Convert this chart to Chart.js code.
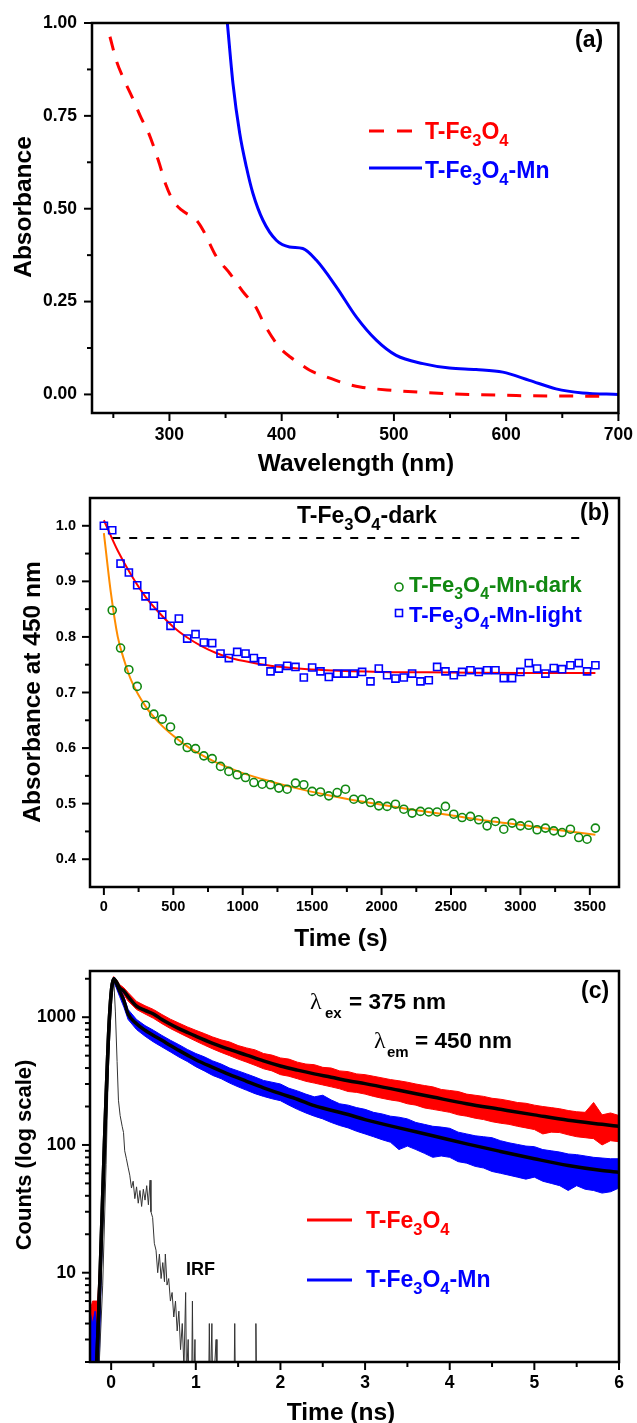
<!DOCTYPE html>
<html>
<head>
<meta charset="utf-8">
<script src="https://cdn.jsdelivr.net/npm/chart.js@4.4.1/dist/chart.umd.min.js"></script>
<style>
  html, body { margin: 0; padding: 0; background: #fff; }
  .panel { position: absolute; left: 0; width: 637px; }
  #wrapA { top: 0; height: 476px; }
  #wrapB { top: 476px; height: 476px; }
  #wrapC { top: 952px; height: 471px; }
</style>
</head>
<body>
<div class="panel" id="wrapA"><canvas id="chartA" width="637" height="476"></canvas></div>
<div class="panel" id="wrapB"><canvas id="chartB" width="637" height="476"></canvas></div>
<div class="panel" id="wrapC"><canvas id="chartC" width="637" height="471"></canvas></div>
<script>
// ---- (a) UV-vis absorbance ----
const bareWl = [247, 253, 259, 268, 275, 281, 290, 297, 303, 311, 324, 330, 342, 354, 367, 376, 386, 398, 408, 416, 425, 440, 455, 470, 499, 550, 609, 683];
const bareAbs = [0.963, 0.896, 0.851, 0.792, 0.743, 0.707, 0.631, 0.563, 0.523, 0.496, 0.469, 0.442, 0.37, 0.325, 0.271, 0.24, 0.181, 0.127, 0.10, 0.083, 0.065, 0.047, 0.031, 0.02, 0.011, 0.002, -0.003, -0.005];
const mnWl = [351.6, 356.6, 362.6, 368.5, 374.4, 383.3, 395.2, 407, 418.8, 431, 448.8, 466.6, 484.3, 502, 525.8, 549.5, 573.2, 597, 620.7, 644.4, 668, 700];
const mnAbs = [1.0, 0.837, 0.703, 0.613, 0.541, 0.469, 0.415, 0.397, 0.393, 0.361, 0.289, 0.208, 0.146, 0.105, 0.083, 0.071, 0.067, 0.06, 0.038, 0.015, 0.004, 0.0];
const wlMajor = [300, 400, 500, 600, 700];
const wlMinor = [250, 350, 450, 550, 650];
const absMajor = [0, 0.25, 0.5, 0.75, 1.0];
const absMinor = [0.125, 0.375, 0.625, 0.875];

// ---- (b) absorbance at 450 nm vs time ----
const lightTime = [0, 60, 120, 180, 240, 300, 360, 420, 480, 540, 600, 660, 720, 780, 840, 900, 960, 1020, 1080, 1140, 1200, 1260, 1320, 1380, 1440, 1500, 1560, 1620, 1680, 1740, 1800, 1860, 1920, 1980, 2040, 2100, 2160, 2220, 2280, 2340, 2400, 2460, 2520, 2580, 2640, 2700, 2760, 2820, 2880, 2940, 3000, 3060, 3120, 3180, 3240, 3300, 3360, 3420, 3480, 3540];
const lightAbs = [1.0, 0.992, 0.932, 0.916, 0.893, 0.873, 0.856, 0.84, 0.82, 0.833, 0.797, 0.805, 0.79, 0.789, 0.77, 0.762, 0.773, 0.77, 0.762, 0.756, 0.738, 0.743, 0.748, 0.746, 0.727, 0.745, 0.738, 0.728, 0.734, 0.734, 0.734, 0.737, 0.72, 0.743, 0.731, 0.725, 0.727, 0.734, 0.72, 0.722, 0.746, 0.738, 0.731, 0.737, 0.74, 0.737, 0.74, 0.74, 0.726, 0.726, 0.737, 0.753, 0.743, 0.734, 0.744, 0.742, 0.749, 0.753, 0.738, 0.749];
const darkTime = [60, 120, 180, 240, 300, 360, 420, 480, 540, 600, 660, 720, 780, 840, 900, 960, 1020, 1080, 1140, 1200, 1260, 1320, 1380, 1440, 1500, 1560, 1620, 1680, 1740, 1800, 1860, 1920, 1980, 2040, 2100, 2160, 2220, 2280, 2340, 2400, 2460, 2520, 2580, 2640, 2700, 2760, 2820, 2880, 2940, 3000, 3060, 3120, 3180, 3240, 3300, 3360, 3420, 3480, 3540];
const darkAbs = [0.848, 0.78, 0.741, 0.711, 0.677, 0.661, 0.652, 0.638, 0.613, 0.601, 0.599, 0.586, 0.581, 0.567, 0.558, 0.552, 0.547, 0.538, 0.535, 0.534, 0.528, 0.526, 0.537, 0.534, 0.522, 0.521, 0.514, 0.52, 0.526, 0.508, 0.508, 0.502, 0.496, 0.495, 0.499, 0.49, 0.483, 0.486, 0.485, 0.485, 0.495, 0.481, 0.475, 0.477, 0.471, 0.46, 0.468, 0.454, 0.465, 0.46, 0.461, 0.453, 0.456, 0.451, 0.448, 0.454, 0.439, 0.436, 0.456];
const lightFitT = [0, 100, 200, 300, 400, 500, 600, 700, 800, 900, 1000, 1200, 1400, 1600, 2000, 2500, 3000, 3540];
const lightFitV = [1.01, 0.955, 0.91, 0.872, 0.843, 0.818, 0.799, 0.784, 0.772, 0.763, 0.757, 0.748, 0.743, 0.740, 0.737, 0.736, 0.735, 0.735];
const darkFitT = [0, 50, 100, 150, 200, 300, 400, 500, 600, 700, 800, 1000, 1200, 1400, 1600, 1800, 2000, 2200, 2500, 2800, 3000, 3200, 3540];
const darkFitV = [0.987, 0.88, 0.80, 0.755, 0.72, 0.675, 0.645, 0.622, 0.603, 0.588, 0.575, 0.555, 0.54, 0.527, 0.516, 0.506, 0.498, 0.49, 0.479, 0.468, 0.462, 0.455, 0.444];
const bareDarkT = [60, 3460];
const bareDarkV = [0.978, 0.978];
const secMajor = [0, 500, 1000, 1500, 2000, 2500, 3000, 3500];
const secMinor = [250, 750, 1250, 1750, 2250, 2750, 3250];
const abs450Major = [0.4, 0.5, 0.6, 0.7, 0.8, 0.9, 1.0];
const abs450Minor = [0.45, 0.55, 0.65, 0.75, 0.85, 0.95];

// ---- (c) fluorescence decay ----
const measT = [-0.25, -0.22, -0.19, -0.16, -0.14, -0.12, -0.1, -0.08, -0.05, -0.02, 0.01, 0.03, 0.06, 0.1, 0.15, 0.2, 0.3, 0.4, 0.5, 0.6, 0.7, 0.8, 0.9, 1.0, 1.1, 1.2, 1.3, 1.4, 1.5, 1.6, 1.7, 1.8, 1.9, 2.0, 2.1, 2.2, 2.3, 2.4, 2.5, 2.6, 2.7, 2.8, 2.9, 3.0, 3.1, 3.2, 3.3, 3.4, 3.5, 3.6, 3.7, 3.8, 3.9, 4.0, 4.1, 4.2, 4.3, 4.4, 4.5, 4.6, 4.7, 4.8, 4.9, 5.0, 5.1, 5.2, 5.3, 5.4, 5.5, 5.6, 5.7, 5.8, 5.9, 6.0];
const bareHigh = [5, 6, 6, 6, 10, 18, 40, 115, 380, 1100, 1850, 2080, 1980, 1800, 1700, 1560, 1330, 1230, 1150, 1050, 965, 900, 840, 790, 745, 700, 665, 640, 600, 575, 555, 520, 505, 480, 470, 445, 430, 425, 405, 400, 380, 375, 360, 355, 345, 335, 325, 318, 310, 300, 292, 285, 272, 267, 262, 250, 245, 240, 232, 228, 222, 215, 212, 205, 200, 196, 192, 186, 182, 180, 215, 172, 178, 170];
const bareLow = [2, 3, 4, 3, 4, 12, 30, 90, 300, 900, 1650, 1900, 1800, 1620, 1500, 1340, 1150, 1060, 980, 890, 815, 755, 700, 650, 605, 565, 530, 500, 470, 445, 420, 395, 380, 355, 345, 330, 315, 305, 295, 285, 275, 262, 258, 250, 240, 232, 225, 220, 210, 205, 195, 190, 185, 180, 172, 168, 162, 158, 152, 148, 145, 140, 136, 132, 122, 126, 125, 120, 116, 114, 112, 100, 108, 106];
const mnHigh = [5, 4, 5, 3, 3, 12, 32, 105, 340, 1020, 1820, 2060, 1950, 1700, 1450, 1150, 960, 860, 790, 720, 660, 610, 560, 520, 490, 455, 430, 400, 380, 360, 340, 320, 310, 300, 278, 265, 250, 238, 245, 225, 210, 205, 196, 190, 180, 175, 168, 165, 160, 150, 145, 140, 138, 135, 126, 122, 118, 116, 114, 108, 104, 101, 98, 97, 92, 90, 88, 85, 84, 82, 80, 79, 78, 78];
const mnLow = [2, 2, 2, 2, 2, 8, 24, 80, 270, 850, 1600, 1880, 1700, 1450, 1200, 960, 800, 710, 640, 585, 535, 488, 450, 410, 380, 350, 330, 305, 285, 268, 252, 240, 230, 222, 205, 190, 178, 168, 160, 150, 142, 136, 128, 122, 116, 110, 105, 92, 98, 92, 86, 80, 82, 80, 74, 72, 68, 66, 62, 60, 58, 56, 54, 56, 52, 50, 48, 44, 48, 45, 44, 42, 43, 46];
const fitT = [-0.17, -0.13, -0.08, -0.02, 0.03, 0.06, 0.1, 0.15, 0.2, 0.3, 0.4, 0.5, 0.6, 0.7, 0.8, 0.9, 1.0, 1.2, 1.4, 1.6, 1.8, 2.0, 2.2, 2.4, 2.6, 2.8, 3.0, 3.4, 3.8, 4.2, 4.6, 5.0, 5.4, 5.8, 6.0];
const bareFit = [2, 10, 100, 1000, 2000, 1900, 1700, 1600, 1450, 1220, 1130, 1060, 960, 880, 815, 760, 710, 625, 560, 505, 455, 415, 385, 360, 339, 318, 302, 268, 237, 210, 190, 172, 156, 145, 140];
const mnFit = [2, 10, 100, 1000, 2000, 1850, 1600, 1350, 1060, 890, 790, 720, 660, 600, 550, 505, 465, 405, 355, 315, 280, 252, 228, 203, 187, 173, 158, 136, 118, 102, 89, 78, 69, 63, 61];
const irfT = [-0.14, -0.1, -0.06, -0.03, 0, 0.02, 0.03, 0.05, 0.07, 0.086, 0.106, 0.13, 0.146, 0.16, 0.18, 0.2, 0.22, 0.24, 0.26, 0.28, 0.3, 0.32, 0.34, 0.36, 0.38, 0.4, 0.42, 0.44, 0.46, 0.47, 0.49, 0.51, 0.53, 0.55, 0.57, 0.59, 0.61, 0.63, 0.64, 0.66, 0.68, 0.7, 0.72, 0.74, 0.76, 0.78, 0.8, 0.82, 0.84, 0.86, 0.88, 0.89, 0.91, 0.92, 0.95, 0.96, 0.97, 0.99, 1.0, 1.15, 1.16, 1.17, 1.19, 1.2, 1.24, 1.25, 1.45, 1.46, 1.47, 1.7, 1.71, 1.72];
const irfV = [2, 8, 70, 500, 1600, 1950, 2000, 1100, 450, 224, 170, 140, 125, 90, 78, 67, 58, 46, 52, 38, 47, 35, 44, 33, 45, 37, 48, 34, 53, 30, 27, 17, 15, 10, 14, 9, 12, 8.5, 14, 8, 9, 6, 7, 4.5, 6, 3.5, 5, 2.5, 4, 1.8, 7, 1.5, 3, 1, 1, 6, 1, 3, 1, 1, 4, 1, 4, 1, 3, 1, 1, 4, 1, 1, 4, 1];
const nsMajor = [0, 1, 2, 3, 4, 5, 6];
const nsMinor = [0.5, 1.5, 2.5, 3.5, 4.5, 5.5];
const countMajor = [10, 100, 1000];
const countMinor = [2, 3, 4, 5, 6, 7, 8, 9, 20, 30, 40, 50, 60, 70, 80, 90, 200, 300, 400, 500, 600, 700, 800, 900, 2000];

const RED = '#ff0000', BLUE = '#0000ff', GREEN = '#118811', ORANGE = '#ff8c00';
const FONT = '"Liberation Sans", Arial, sans-serif';

const pts = (xs, ys) => xs.map((x, i) => ({ x: x, y: ys[i] }));

// text with "_3" style subscripts
function drawRich(ctx, str, x, y, size, color) {
    ctx.fillStyle = color;
    ctx.textAlign = 'left';
    ctx.textBaseline = 'alphabetic';
    const parts = str.split(/_(\d)/);
    parts.forEach((p, i) => {
        if (!p) return;
        const sub = i % 2 === 1;
        const fs = sub ? size * 0.72 : size;
        ctx.font = `bold ${fs}px ${FONT}`;
        ctx.fillText(p, x, sub ? y + size * 0.3 : y);
        x += ctx.measureText(p).width;
    });
}

function drawVTitle(ctx, str, cx, cy, size) {
    ctx.save();
    ctx.translate(cx, cy);
    ctx.rotate(-Math.PI / 2);
    ctx.font = `bold ${size}px ${FONT}`;
    ctx.fillStyle = '#000';
    ctx.textAlign = 'center';
    ctx.textBaseline = 'middle';
    ctx.fillText(str, 0, 0);
    ctx.restore();
}

function drawHTitle(ctx, str, cx, baseY, size) {
    ctx.font = `bold ${size}px ${FONT}`;
    ctx.fillStyle = '#000';
    ctx.textAlign = 'center';
    ctx.textBaseline = 'alphabetic';
    ctx.fillText(str, cx, baseY);
}

function sampleLine(ctx, x1, x2, y, color, width, dash) {
    ctx.save();
    ctx.strokeStyle = color;
    ctx.lineWidth = width;
    ctx.setLineDash(dash || []);
    ctx.beginPath();
    ctx.moveTo(x1, y);
    ctx.lineTo(x2, y);
    ctx.stroke();
    ctx.restore();
}

// frame, outward major/minor ticks and free text for one panel
function decorPlugin(cfg) {
    return {
        id: 'decor',
        afterDraw(chart) {
            const ctx = chart.ctx, a = chart.chartArea;
            const xs = chart.scales.x, ys = chart.scales.y;
            ctx.save();
            ctx.strokeStyle = '#000';
            ctx.lineWidth = 2;
            ctx.setLineDash([]);
            const tick = (list, len, isX) => list.forEach(v => {
                const p = isX ? xs.getPixelForValue(v) : ys.getPixelForValue(v);
                ctx.beginPath();
                if (isX) { ctx.moveTo(p, a.bottom); ctx.lineTo(p, a.bottom + len); }
                else { ctx.moveTo(a.left, p); ctx.lineTo(a.left - len, p); }
                ctx.stroke();
            });
            tick(cfg.xMajor, 8, true);
            tick(cfg.xMinor, 5, true);
            tick(cfg.yMajor, 8, false);
            tick(cfg.yMinor, 5, false);
            ctx.lineWidth = 2.5;
            ctx.strokeRect(a.left, a.top, a.right - a.left, a.bottom - a.top);
            cfg.extra(ctx);
            ctx.restore();
        }
    };
}

function axis(opts) {
    return {
        type: opts.type || 'linear',
        min: opts.min,
        max: opts.max,
        afterFit: s => { if (opts.width) s.width = opts.width; if (opts.height) s.height = opts.height; },
        afterBuildTicks: s => { s.ticks = opts.major.map(v => ({ value: v })); },
        ticks: {
            autoSkip: false,
            maxRotation: 0,
            padding: opts.padding,
            color: '#000',
            font: { family: FONT, size: opts.fontSize, weight: 'bold' },
            callback: opts.label
        },
        grid: { drawOnChartArea: false, tickLength: 8, tickColor: 'rgba(0,0,0,0)', color: 'rgba(0,0,0,0)' },
        border: { display: false },
        title: { display: false }
    };
}

const baseOptions = (pad, scales) => ({
    responsive: false,
    animation: false,
    devicePixelRatio: 1,
    layout: { padding: pad },
    plugins: { legend: { display: false }, tooltip: { enabled: false } },
    elements: { point: { radius: 0 } },
    scales: scales
});

// Panel (a)
new Chart(document.getElementById('chartA'), {
    type: 'line',
    data: {
        datasets: [
            { data: pts(bareWl, bareAbs), borderColor: RED, borderWidth: 3, borderDash: [14, 12], cubicInterpolationMode: 'monotone', fill: false },
            { data: pts(mnWl, mnAbs), borderColor: BLUE, borderWidth: 3, cubicInterpolationMode: 'monotone', fill: false }
        ]
    },
    options: baseOptions({ left: 0, right: 17, top: 23, bottom: 0 }, {
        x: axis({ min: 231, max: 700, major: wlMajor, height: 63, padding: 4, fontSize: 17.5, label: v => String(v) }),
        y: axis({ min: -0.05, max: 1.0, major: absMajor, width: 92, padding: 7, fontSize: 17.5, label: v => v.toFixed(2) })
    }),
    plugins: [decorPlugin({
        xMajor: wlMajor, xMinor: wlMinor, yMajor: absMajor, yMinor: absMinor,
        extra: ctx => {
            drawRich(ctx, '(a)', 575, 47, 23, '#000');
            sampleLine(ctx, 369, 412, 131, RED, 3, [15, 13]);
            drawRich(ctx, 'T-Fe_3O_4', 425, 139, 23, RED);
            sampleLine(ctx, 369, 422, 168, BLUE, 3);
            drawRich(ctx, 'T-Fe_3O_4-Mn', 425, 178, 23, BLUE);
            drawVTitle(ctx, 'Absorbance', 24, 207, 24.5);
            drawHTitle(ctx, 'Wavelength (nm)', 356, 471, 24.5);
        }
    })]
});

// Panel (b)
new Chart(document.getElementById('chartB'), {
    type: 'line',
    data: {
        datasets: [
            { data: pts(lightFitT, lightFitV), borderColor: RED, borderWidth: 2, cubicInterpolationMode: 'monotone', fill: false, order: 1 },
            { data: pts(darkFitT, darkFitV), borderColor: ORANGE, borderWidth: 2, cubicInterpolationMode: 'monotone', fill: false, order: 1 },
            { data: pts(bareDarkT, bareDarkV), borderColor: '#000', borderWidth: 2, borderDash: [8, 9], fill: false, order: 1 },
            { data: pts(darkTime, darkAbs), showLine: false, pointStyle: 'circle', pointRadius: 4, pointBorderWidth: 1.6, pointBorderColor: GREEN, pointBackgroundColor: 'rgba(0,0,0,0)', order: 0 },
            { data: pts(lightTime, lightAbs), showLine: false, pointStyle: 'rect', pointRadius: 5, pointBorderWidth: 1.6, pointBorderColor: BLUE, pointBackgroundColor: 'rgba(0,0,0,0)', order: 0 }
        ]
    },
    options: baseOptions({ left: 0, right: 18, top: 22, bottom: 0 }, {
        x: axis({ min: -100, max: 3710, major: secMajor, height: 65, padding: 3, fontSize: 14.5, label: v => String(v) }),
        y: axis({ min: 0.35, max: 1.05, major: abs450Major, width: 90, padding: 6, fontSize: 14.5, label: v => v.toFixed(1) })
    }),
    plugins: [decorPlugin({
        xMajor: secMajor, xMinor: secMinor, yMajor: abs450Major, yMinor: abs450Minor,
        extra: ctx => {
            drawRich(ctx, 'T-Fe_3O_4-dark', 297, 47, 23, '#000');
            drawRich(ctx, '(b)', 580, 44, 23, '#000');
            ctx.save();
            ctx.lineWidth = 1.6;
            ctx.strokeStyle = GREEN;
            ctx.beginPath(); ctx.arc(399, 111, 4, 0, Math.PI * 2); ctx.stroke();
            ctx.strokeStyle = BLUE;
            ctx.strokeRect(395.5, 133.5, 7, 7);
            ctx.restore();
            drawRich(ctx, 'T-Fe_3O_4-Mn-dark', 409, 116, 22, GREEN);
            drawRich(ctx, 'T-Fe_3O_4-Mn-light', 409, 146, 22, BLUE);
            drawVTitle(ctx, 'Absorbance at 450 nm', 33, 216, 24.5);
            drawHTitle(ctx, 'Time (s)', 341, 470, 24.5);
        }
    })]
});

// Panel (c)
new Chart(document.getElementById('chartC'), {
    type: 'line',
    data: {
        datasets: [
            { data: pts(fitT, bareFit), borderColor: '#000', borderWidth: 3.5, cubicInterpolationMode: 'monotone', fill: false, order: 0 },
            { data: pts(fitT, mnFit), borderColor: '#000', borderWidth: 3.5, cubicInterpolationMode: 'monotone', fill: false, order: 0 },
            { data: pts(irfT, irfV), borderColor: '#333', borderWidth: 1, fill: false, order: 1 },
            { data: pts(measT, mnHigh), borderColor: BLUE, borderWidth: 1, fill: false, order: 2 },
            { data: pts(measT, mnLow), borderColor: BLUE, borderWidth: 1, backgroundColor: BLUE, fill: '-1', order: 2 },
            { data: pts(measT, bareHigh), borderColor: RED, borderWidth: 1, fill: false, order: 3 },
            { data: pts(measT, bareLow), borderColor: RED, borderWidth: 1, backgroundColor: RED, fill: '-1', order: 3 }
        ]
    },
    options: baseOptions({ left: 0, right: 18, top: 19, bottom: 0 }, {
        x: axis({ min: -0.25, max: 6, major: nsMajor, height: 61, padding: 3, fontSize: 17.5, label: v => String(v) }),
        y: axis({ type: 'logarithmic', min: 2, max: 2300, major: countMajor, width: 90, padding: 6, fontSize: 17.5, label: v => String(v) })
    }),
    plugins: [decorPlugin({
        xMajor: nsMajor, xMinor: nsMinor, yMajor: countMajor, yMinor: countMinor,
        extra: ctx => {
            drawRich(ctx, '(c)', 581, 46, 23, '#000');
            ctx.fillStyle = '#000';
            ctx.textAlign = 'left';
            ctx.textBaseline = 'alphabetic';
            ctx.font = `24px "Liberation Serif", serif`;
            ctx.fillText('λ', 310, 57);
            ctx.fillText('λ', 374, 96);
            drawRich(ctx, 'ex', 325, 66, 15, '#000');
            drawRich(ctx, '= 375 nm', 349, 57, 22.5, '#000');
            drawRich(ctx, 'em', 387, 105, 15, '#000');
            drawRich(ctx, '= 450 nm', 415, 96, 22.5, '#000');
            sampleLine(ctx, 307, 352, 268, RED, 3);
            drawRich(ctx, 'T-Fe_3O_4', 366, 276, 23, RED);
            sampleLine(ctx, 307, 352, 328, BLUE, 3);
            drawRich(ctx, 'T-Fe_3O_4-Mn', 366, 335, 23, BLUE);
            drawRich(ctx, 'IRF', 186, 323, 18, '#000');
            drawVTitle(ctx, 'Counts (log scale)', 25, 203, 22);
            drawHTitle(ctx, 'Time (ns)', 341, 468, 24.5);
        }
    })]
});
</script>
</body>
</html>
